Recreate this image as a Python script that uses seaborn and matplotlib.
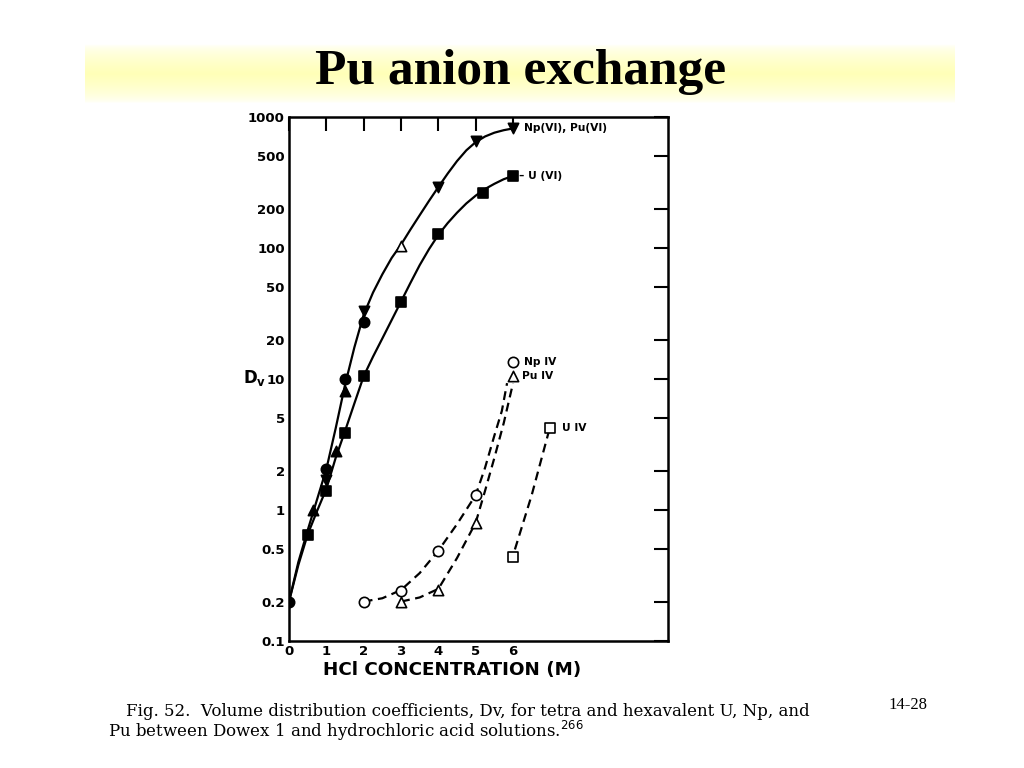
import matplotlib.pyplot as plt
import numpy as np
import seaborn as sns

# hexavalent curves (solid)
hex_np_pu_x = [0, 0.25, 0.5, 0.75, 1, 1.25, 1.5, 1.75, 2, 2.25, 2.5, 2.75, 3,
               3.25, 3.5, 3.75, 4, 4.25, 4.5, 4.75, 5, 5.25, 5.5, 5.75, 6]
hex_np_pu_y = [0.2, 0.4, 0.7, 1.2, 2.05, 4.2, 9, 17.4, 31, 45.7, 63, 84, 106,
               138, 178, 229, 292, 370, 461, 557, 643, 710, 759, 793, 818]
hex_u_x = [0, 0.25, 0.5, 0.75, 1, 1.25, 1.5, 1.75, 2, 2.25, 2.5, 2.75, 3,
           3.25, 3.5, 3.75, 4, 4.25, 4.5, 4.75, 5, 5.25, 5.5, 5.75, 6]
hex_u_y = [0.2, 0.38, 0.65, 0.98, 1.45, 2.5, 4.0, 6.5, 10.5, 14.8, 20.4, 28.2, 39,
           54, 74, 98, 126, 155, 186, 219, 251, 282, 309, 335, 355]

# tetravalent curves (dashed)
np_iv_curve_x = [2, 2.5, 3, 3.5, 4, 4.5, 5, 5.25, 5.5, 5.7, 5.84]
np_iv_curve_y = [0.2, 0.212, 0.245, 0.33, 0.49, 0.78, 1.3, 2.1, 3.7, 5.7, 9.3]
pu_iv_curve_x = [3, 3.5, 4, 4.5, 5, 5.25, 5.5, 5.75, 6.0]
pu_iv_curve_y = [0.2, 0.215, 0.25, 0.43, 0.8, 1.4, 2.5, 4.6, 9.3]
u_iv_curve_x = [6.05, 6.5, 6.95]
u_iv_curve_y = [0.5, 1.3, 3.9]

# measured points
filled_circle_x = [0, 1, 1.5, 2]
filled_circle_y = [0.2, 2.05, 10, 27]
filled_tri_up_x = [0.65, 1.25, 1.5]
filled_tri_up_y = [1.0, 2.8, 8.1]
filled_tri_down_x = [1, 2, 4, 5, 6]
filled_tri_down_y = [1.7, 33, 290, 660, 820]
filled_square_x = [0.5, 1, 1.5, 2, 3, 4, 5.2, 6]
filled_square_y = [0.65, 1.4, 3.9, 10.5, 39, 128, 265, 355]
open_tri_x = [3]
open_tri_y = [103]
np_iv_x = [2, 3, 4, 5, 6]
np_iv_y = [0.2, 0.24, 0.49, 1.3, 13.5]
pu_iv_x = [3, 4, 5, 6]
pu_iv_y = [0.2, 0.245, 0.79, 10.5]
u_iv_x = [6, 7]
u_iv_y = [0.44, 4.2]

y_ticks = [0.1, 0.2, 0.5, 1, 2, 5, 10, 20, 50, 100, 200, 500, 1000]
y_ticklabels = ['0.1', '0.2', '0.5', '1', '2', '5', '10', '20', '50', '100', '200', '500', '1000']
x_ticks = [0, 1, 2, 3, 4, 5, 6]

sns.set_style('white')
plt.rcParams['font.family'] = ['DejaVu Sans']
plt.rcParams['text.color'] = 'black'
plt.rcParams['axes.labelcolor'] = 'black'

fig = plt.figure(figsize=(10.24, 7.68), dpi=100)

# --- yellow title band ---
band = fig.add_axes([85 / 1024, 1 - 103 / 768, 870 / 1024, 65 / 768])
t = np.linspace(0, 1, 200)
w = np.clip(1 - np.abs(t - 0.55) / 0.45, 0, 1) ** 0.6
yellow = np.array([1.0, 1.0, 0.72])
grad = (1 - w)[:, None] * np.ones(3) + w[:, None] * yellow
band.imshow(grad[:, None, :], aspect='auto', extent=[0, 1, 0, 1])
band.axis('off')
fig.text(0.508, 1 - 72 / 768, 'Pu anion exchange', ha='center', va='center',
         family='Liberation Serif', fontweight='bold', fontsize=37, color='black')

# --- main plot ---
ax = fig.add_axes([289 / 1024, 1 - 641 / 768, 379 / 1024, 524 / 768])

line_kw = dict(color='black', linewidth=1.6, sort=False, estimator=None, ax=ax)
sns.lineplot(x=hex_np_pu_x, y=hex_np_pu_y, **line_kw)
sns.lineplot(x=hex_u_x, y=hex_u_y, **line_kw)
for cx, cy in [(np_iv_curve_x, np_iv_curve_y), (pu_iv_curve_x, pu_iv_curve_y),
               (u_iv_curve_x, u_iv_curve_y)]:
    sns.lineplot(x=cx, y=cy, linestyle=(0, (4, 2.5)), **line_kw)

pt_kw = dict(s=55, edgecolor='black', linewidth=1.2, zorder=5, ax=ax)
sns.scatterplot(x=filled_circle_x, y=filled_circle_y, marker='o', color='black', **pt_kw)
sns.scatterplot(x=filled_tri_up_x, y=filled_tri_up_y, marker='^', color='black', **pt_kw)
sns.scatterplot(x=filled_tri_down_x, y=filled_tri_down_y, marker='v', color='black', **pt_kw)
sns.scatterplot(x=filled_square_x, y=filled_square_y, marker='s', color='black', **pt_kw)
sns.scatterplot(x=open_tri_x, y=open_tri_y, marker='^', color='white', **pt_kw)
sns.scatterplot(x=np_iv_x, y=np_iv_y, marker='o', color='white', **pt_kw)
sns.scatterplot(x=pu_iv_x, y=pu_iv_y, marker='^', color='white', **pt_kw)
sns.scatterplot(x=u_iv_x, y=u_iv_y, marker='s', color='white', **pt_kw)

lab_kw = dict(fontsize=7.7, fontweight='bold', va='center', ha='left')
ax.text(6.3, filled_tri_down_y[-1], 'Np(VI), Pu(VI)', **lab_kw)
ax.text(6.15, filled_square_y[-1], '\u2013 U (VI)', **lab_kw)
ax.text(6.3, np_iv_y[-1], 'Np IV', **lab_kw)
ax.text(6.25, pu_iv_y[-1], 'Pu IV', **lab_kw)
ax.text(7.3, u_iv_y[-1], 'U IV', **lab_kw)

ax.set_yscale('log')
ax.set_xlim(0, 10.15)
ax.set_ylim(0.1, 1000)
ax.set_yticks(y_ticks)
ax.set_yticklabels(y_ticklabels)
ax.minorticks_off()
ax.set_xticks(x_ticks)
ax.set_xticklabels([str(v) for v in x_ticks])
ax.tick_params(direction='in', length=10, width=1.5, top=True, right=True,
               labelsize=9.5, pad=3, colors='black')
for lbl in ax.get_xticklabels() + ax.get_yticklabels():
    lbl.set_fontweight('bold')
for sp in ax.spines.values():
    sp.set_linewidth(1.8)
    sp.set_color('black')

ax.text(0.43, -0.055, 'HCl CONCENTRATION (M)', transform=ax.transAxes,
        ha='center', va='center', fontsize=13.2, fontweight='bold')
ax.text(-0.09, 0.502, 'D$_\\mathregular{v}$', transform=ax.transAxes,
        ha='center', va='center', fontsize=12, fontweight='bold')

# --- caption and slide number ---
fig.text(126 / 1024, 1 - 712 / 768,
         'Fig. 52.  Volume distribution coefficients, Dv, for tetra and hexavalent U, Np, and',
         family='DejaVu Serif', fontsize=12, ha='left', va='center')
fig.text(108 / 1024, 1 - 731 / 768,
         'Pu between Dowex 1 and hydrochloric acid solutions.$^{266}$',
         family='DejaVu Serif', fontsize=12, ha='left', va='center')
fig.text(908 / 1024, 1 - 705 / 768, '14-28', family='Liberation Serif',
         fontsize=12, ha='center', va='center')

fig.savefig('out.png', dpi=100, facecolor='white')
